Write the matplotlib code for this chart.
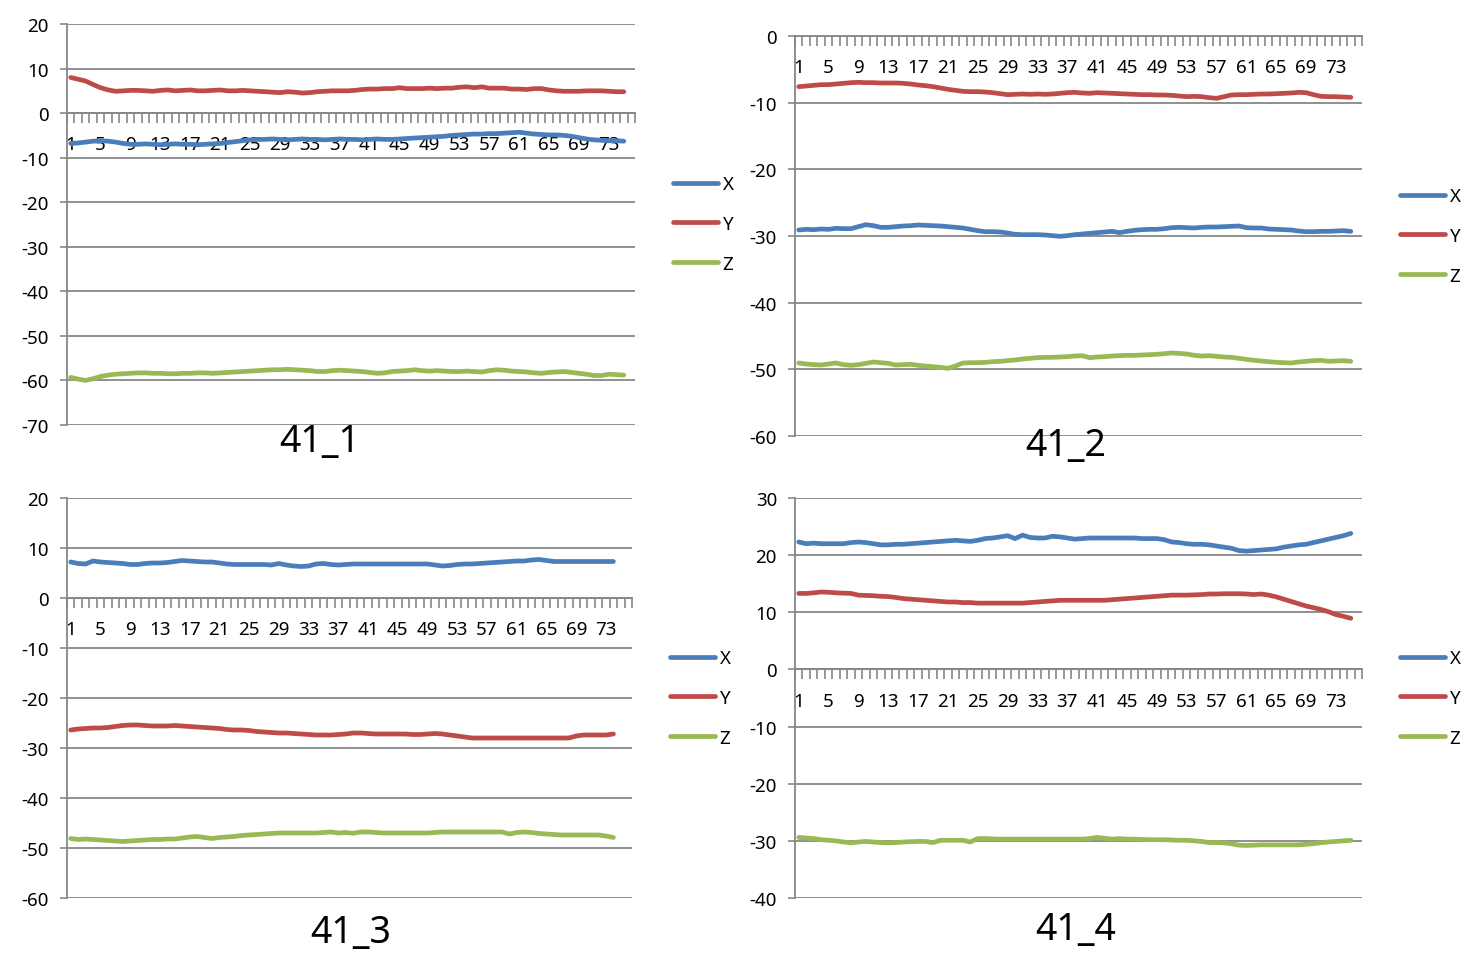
import numpy as np
import matplotlib.pyplot as plt

# category labels shown on the x axis (every 4th sample)
tick_labels = ['1', '5', '9', '13', '17', '21', '25', '29', '33', '37',
               '41', '45', '49', '53', '57', '61', '65', '69', '73']
series_names = ['X', 'Y', 'Z']

# 41_1
x_41_1 = [-6.8, -6.7, -6.5, -6.3, -6.2, -6.3, -6.5, -6.8,
          -7.0, -7.0, -6.9, -7.0, -7.1, -7.0, -6.9, -7.0,
          -7.0, -7.1, -7.0, -6.9, -6.8, -6.6, -6.4, -6.2,
          -6.0, -5.9, -5.9, -5.8, -5.9, -6.0, -5.9, -5.8,
          -5.9, -5.9, -6.0, -5.9, -5.8, -5.9, -5.9, -6.0,
          -5.9, -5.8, -5.9, -5.9, -5.8, -5.7, -5.6, -5.5,
          -5.4, -5.3, -5.2, -5.0, -4.9, -4.8, -4.7, -4.7,
          -4.6, -4.6, -4.5, -4.4, -4.3, -4.5, -4.7, -4.8,
          -4.9, -4.9, -5.0, -5.2, -5.5, -5.8, -6.0, -6.1,
          -6.2, -6.2, -6.3]
y_41_1 = [8.0, 7.6, 7.2, 6.4, 5.7, 5.2, 4.9, 5.0,
          5.1, 5.1, 5.0, 4.9, 5.1, 5.2, 5.0, 5.1,
          5.2, 5.0, 5.0, 5.1, 5.2, 5.0, 5.0, 5.1,
          5.0, 4.9, 4.8, 4.7, 4.6, 4.8, 4.7, 4.5,
          4.6, 4.8, 4.9, 5.0, 5.0, 5.0, 5.1, 5.3,
          5.4, 5.4, 5.5, 5.5, 5.7, 5.5, 5.5, 5.5,
          5.6, 5.5, 5.6, 5.6, 5.8, 5.9, 5.7, 5.9,
          5.6, 5.6, 5.6, 5.4, 5.4, 5.3, 5.5, 5.5,
          5.2, 5.0, 4.9, 4.9, 4.9, 5.0, 5.0, 5.0,
          4.9, 4.8, 4.8]
z_41_1 = [-59.3, -59.7, -60.0, -59.6, -59.1, -58.8, -58.6, -58.5,
          -58.4, -58.3, -58.3, -58.4, -58.4, -58.5, -58.5, -58.4,
          -58.4, -58.3, -58.3, -58.4, -58.3, -58.2, -58.1, -58.0,
          -57.9, -57.8, -57.7, -57.6, -57.6, -57.5, -57.6, -57.7,
          -57.8, -58.0, -58.0, -57.8, -57.7, -57.8, -57.9, -58.0,
          -58.2, -58.4, -58.3, -58.0, -57.9, -57.8, -57.6, -57.8,
          -57.9, -57.8, -57.9, -58.0, -58.0, -57.9, -58.0, -58.1,
          -57.8, -57.6, -57.7, -57.9, -58.0, -58.1, -58.3, -58.4,
          -58.2, -58.1, -58.0, -58.2, -58.4, -58.6, -58.9, -58.9,
          -58.6, -58.7, -58.8]

# 41_2
x_41_2 = [-29.1, -29.0, -29.05, -28.95, -29.0, -28.85, -28.9, -28.9,
          -28.6, -28.3, -28.45, -28.7, -28.7, -28.6, -28.5, -28.45,
          -28.35, -28.4, -28.45, -28.5, -28.6, -28.7, -28.8, -29.0,
          -29.2, -29.35, -29.35, -29.4, -29.55, -29.75, -29.8, -29.8,
          -29.8, -29.85, -29.95, -30.05, -29.95, -29.8, -29.7, -29.6,
          -29.5, -29.4, -29.3, -29.5, -29.3, -29.15, -29.05, -29.0,
          -29.0, -28.9, -28.75, -28.7, -28.75, -28.8, -28.7, -28.65,
          -28.65, -28.6, -28.55, -28.5, -28.75, -28.8, -28.8, -28.95,
          -29.0, -29.05, -29.1, -29.25, -29.35, -29.35, -29.3, -29.3,
          -29.25, -29.2, -29.3]
y_41_2 = [-7.6, -7.5, -7.4, -7.3, -7.3, -7.2, -7.1, -7.0,
          -6.95, -7.0, -7.0, -7.05, -7.05, -7.05, -7.1, -7.2,
          -7.35, -7.45, -7.6, -7.8, -8.0, -8.15, -8.3, -8.35,
          -8.35, -8.4, -8.5, -8.65, -8.8, -8.75, -8.7, -8.75,
          -8.7, -8.75, -8.7, -8.6, -8.5, -8.45, -8.55, -8.6,
          -8.5, -8.55, -8.6, -8.65, -8.7, -8.75, -8.8, -8.8,
          -8.85, -8.85, -8.9, -9.0, -9.1, -9.05, -9.1, -9.25,
          -9.35, -9.1, -8.85, -8.8, -8.8, -8.75, -8.7, -8.7,
          -8.65, -8.6, -8.55, -8.45, -8.5, -8.8, -9.05, -9.1,
          -9.1, -9.15, -9.2]
z_41_2 = [-49.05, -49.2, -49.3, -49.35, -49.2, -49.05, -49.3, -49.4,
          -49.3, -49.1, -48.9, -49.0, -49.1, -49.35, -49.3, -49.25,
          -49.4, -49.5, -49.6, -49.7, -49.85, -49.5, -49.05, -49.0,
          -49.0, -48.95, -48.85, -48.8, -48.7, -48.6, -48.45, -48.35,
          -48.25, -48.2, -48.2, -48.15, -48.1, -48.0, -47.95, -48.25,
          -48.15, -48.1, -48.0, -47.95, -47.9, -47.9, -47.85, -47.8,
          -47.75, -47.65, -47.55, -47.6, -47.7, -47.9, -48.0, -47.95,
          -48.05, -48.15, -48.2, -48.35, -48.5, -48.65, -48.75, -48.85,
          -48.95, -49.0, -49.05, -48.9, -48.8, -48.7, -48.65, -48.8,
          -48.75, -48.7, -48.8]

# 41_3 (one sample shorter)
x_41_3 = [7.2, 6.9, 6.8, 7.4, 7.2, 7.1, 7.0, 6.9,
          6.7, 6.7, 6.9, 7.0, 7.0, 7.1, 7.3, 7.5,
          7.4, 7.3, 7.2, 7.2, 7.0, 6.8, 6.7, 6.7,
          6.7, 6.7, 6.7, 6.6, 6.9, 6.6, 6.4, 6.3,
          6.4, 6.8, 6.9, 6.7, 6.6, 6.7, 6.8, 6.8,
          6.8, 6.8, 6.8, 6.8, 6.8, 6.8, 6.8, 6.8,
          6.8, 6.6, 6.4, 6.5, 6.7, 6.8, 6.8, 6.9,
          7.0, 7.1, 7.2, 7.3, 7.4, 7.4, 7.6, 7.7,
          7.5, 7.3, 7.3, 7.3, 7.3, 7.3, 7.3, 7.3,
          7.3, 7.3]
y_41_3 = [-26.4, -26.2, -26.1, -26.0, -26.0, -25.9, -25.7, -25.5,
          -25.4, -25.4, -25.5, -25.6, -25.6, -25.6, -25.5, -25.6,
          -25.7, -25.8, -25.9, -26.0, -26.1, -26.3, -26.4, -26.4,
          -26.5, -26.7, -26.8, -26.9, -27.0, -27.0, -27.1, -27.2,
          -27.3, -27.4, -27.4, -27.4, -27.3, -27.2, -27.0, -27.0,
          -27.1, -27.2, -27.2, -27.2, -27.2, -27.2, -27.3, -27.3,
          -27.2, -27.1, -27.2, -27.4, -27.6, -27.8, -28.0, -28.0,
          -28.0, -28.0, -28.0, -28.0, -28.0, -28.0, -28.0, -28.0,
          -28.0, -28.0, -28.0, -28.0, -27.6, -27.4, -27.4, -27.4,
          -27.4, -27.2]
z_41_3 = [-48.1, -48.3, -48.2, -48.3, -48.4, -48.5, -48.6, -48.7,
          -48.6, -48.5, -48.4, -48.3, -48.3, -48.2, -48.2, -48.0,
          -47.8, -47.7, -47.9, -48.1, -47.9, -47.8, -47.7, -47.5,
          -47.4, -47.3, -47.2, -47.1, -47.0, -47.0, -47.0, -47.0,
          -47.0, -47.0, -46.9, -46.8, -47.0, -46.9, -47.05, -46.8,
          -46.8, -46.9, -47.0, -47.0, -47.0, -47.0, -47.0, -47.0,
          -47.0, -46.9, -46.8, -46.8, -46.8, -46.8, -46.8, -46.8,
          -46.8, -46.8, -46.8, -47.2, -46.9, -46.8, -46.9, -47.1,
          -47.2, -47.3, -47.4, -47.4, -47.4, -47.4, -47.4, -47.4,
          -47.6, -47.9]

# 41_4
x_41_4 = [22.3, 22.0, 22.1, 22.0, 22.0, 22.0, 22.0, 22.2,
          22.3, 22.2, 22.0, 21.8, 21.8, 21.9, 21.9, 22.0,
          22.1, 22.2, 22.3, 22.4, 22.5, 22.6, 22.5, 22.4,
          22.6, 22.9, 23.0, 23.2, 23.4, 22.9, 23.5, 23.1,
          23.0, 23.0, 23.3, 23.2, 23.0, 22.8, 22.9, 23.0,
          23.0, 23.0, 23.0, 23.0, 23.0, 23.0, 22.9, 22.9,
          22.9, 22.7, 22.3, 22.2, 22.0, 21.9, 21.9, 21.8,
          21.6, 21.4, 21.2, 20.8, 20.7, 20.8, 20.9, 21.0,
          21.1, 21.4, 21.6, 21.8, 21.9, 22.2, 22.5, 22.8,
          23.1, 23.4, 23.8]
y_41_4 = [13.3, 13.3, 13.4, 13.55, 13.5, 13.4, 13.35, 13.3,
          13.0, 12.95, 12.9, 12.8, 12.75, 12.6, 12.4, 12.3,
          12.2, 12.1, 12.0, 11.9, 11.8, 11.8, 11.7, 11.7,
          11.6, 11.6, 11.6, 11.6, 11.6, 11.6, 11.6, 11.7,
          11.8, 11.9, 12.0, 12.1, 12.1, 12.1, 12.1, 12.1,
          12.1, 12.1, 12.2, 12.3, 12.4, 12.5, 12.6, 12.7,
          12.8, 12.9, 13.0, 13.0, 13.0, 13.05, 13.1, 13.2,
          13.2, 13.25, 13.25, 13.25, 13.2, 13.1, 13.2, 13.0,
          12.7, 12.3, 11.9, 11.5, 11.1, 10.8, 10.5, 10.1,
          9.6, 9.3, 8.95]
z_41_4 = [-29.4, -29.5, -29.6, -29.8, -29.9, -30.0, -30.2, -30.35,
          -30.2, -30.1, -30.2, -30.3, -30.35, -30.3, -30.2, -30.15,
          -30.1, -30.1, -30.3, -29.9, -29.9, -29.9, -29.9, -30.2,
          -29.6, -29.6, -29.65, -29.7, -29.7, -29.7, -29.7, -29.7,
          -29.7, -29.7, -29.7, -29.7, -29.7, -29.7, -29.7, -29.6,
          -29.4, -29.55, -29.7, -29.6, -29.7, -29.7, -29.75, -29.8,
          -29.8, -29.8, -29.85, -29.9, -29.9, -30.0, -30.1, -30.3,
          -30.3, -30.35, -30.5, -30.75, -30.8, -30.75, -30.7, -30.7,
          -30.7, -30.7, -30.7, -30.7, -30.6, -30.5, -30.3, -30.2,
          -30.1, -30.0, -29.9]

W, H = 1479, 978
N_CATS = 76
GRAY = '#878787'
COLORS = ['#4A7EBB', '#BE4B48', '#98B954']
FONT = 'Noto Sans'

# excel prints a plain hyphen for negatives
plt.rcParams['axes.unicode_minus'] = False


def px_box(left, top, right, bottom):
    return [left / W, 1 - bottom / H, (right - left) / W, (bottom - top) / H]


def draw_panel(fig, box, data, ymin, ymax, title, title_xy, legend_xy):
    ax = fig.add_axes(px_box(*box))
    lines = []
    for values, name, color in zip(data, series_names, COLORS):
        cats = np.arange(1, len(values) + 1)
        ln, = ax.plot(cats, values, color=color, lw=3.4, label=name,
                      solid_capstyle='round', solid_joinstyle='round', zorder=3)
        lines.append(ln)

    ax.set_xlim(0.5, N_CATS + 0.5)
    ax.set_ylim(ymin, ymax)

    # excel style: only the value axis and the category axis sitting at 0
    for side in ['top', 'right']:
        ax.spines[side].set_visible(False)
    ax.spines['left'].set_color(GRAY)
    ax.spines['left'].set_linewidth(1.3)
    ax.spines['bottom'].set_position(('data', 0))
    ax.spines['bottom'].set_color(GRAY)
    ax.spines['bottom'].set_linewidth(1.3)

    ax.set_yticks(np.arange(ymin, ymax + 1, 10))
    ax.yaxis.grid(True, color=GRAY, lw=1.3)
    ax.set_axisbelow(True)
    ax.tick_params(axis='y', length=5, width=1.2, color=GRAY, pad=8,
                   labelsize=13.5)

    # tick marks between categories, labels on every 4th category
    ax.set_xticks(np.arange(0.5, N_CATS + 1, 1))
    ax.set_xticks(np.arange(1, 74, 4), minor=True)
    ax.set_xticklabels(tick_labels, minor=True)
    ax.tick_params(axis='x', which='major', length=7, width=1.2, color=GRAY,
                   labelbottom=False)
    ax.tick_params(axis='x', which='minor', length=0, pad=16, labelsize=13.5)

    for lab in ax.get_xticklabels(minor=True) + ax.get_yticklabels():
        lab.set_family(FONT)

    fig.text(title_xy[0] / W, 1 - title_xy[1] / H, title, fontsize=27,
             family=FONT, ha='center', va='center')

    fig.legend(handles=lines, loc='center left',
               bbox_to_anchor=(legend_xy[0] / W, 1 - legend_xy[1] / H),
               frameon=False, borderpad=0, borderaxespad=0,
               handlelength=2.4, handletextpad=0.25, labelspacing=1.15,
               prop={'family': FONT, 'size': 13.5})
    return ax


def main():
    fig = plt.figure(figsize=(W / 100, H / 100), dpi=100)

    draw_panel(fig, (67, 25, 635, 426), [x_41_1, y_41_1, z_41_1], -70, 20,
               '41_1', (320, 442), (673, 225))
    draw_panel(fig, (795, 37, 1362, 437), [x_41_2, y_41_2, z_41_2], -60, 0,
               '41_2', (1066, 446), (1400, 237))
    draw_panel(fig, (67, 499, 632, 899), [x_41_3, y_41_3, z_41_3], -60, 20,
               '41_3', (351, 933), (670, 699))
    draw_panel(fig, (795, 499, 1362, 899), [x_41_4, y_41_4, z_41_4], -40, 30,
               '41_4', (1076, 930), (1400, 699))

    fig.savefig('out.png', dpi=100)


if __name__ == "__main__":
    main()
